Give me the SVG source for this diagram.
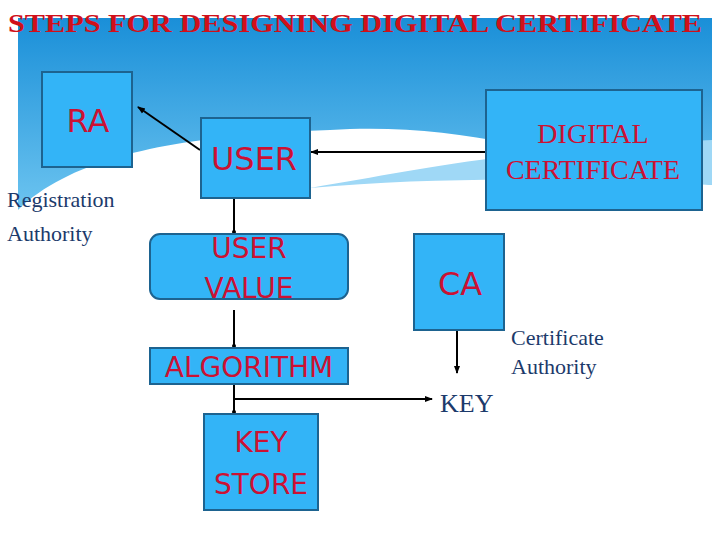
<svg xmlns="http://www.w3.org/2000/svg" width="720" height="540" viewBox="0 0 720 540">
<defs>
<linearGradient id="sky" x1="0" y1="0" x2="0" y2="1"><stop offset="0" stop-color="#1a8fd8"/><stop offset="1" stop-color="#6cc4f0"/></linearGradient>
<marker id="ah" markerWidth="8" markerHeight="8" refX="7" refY="4" orient="auto" markerUnits="userSpaceOnUse"><path d="M0,1 L8,4 L0,7 Z" fill="#000"/></marker>
</defs>
<style>
.box{fill:#33b4f7;stroke:#1d6390;stroke-width:2}
.nt{font-family:"DejaVu Sans",sans-serif;fill:#cc1133;text-anchor:middle}
.lb{font-family:"Liberation Serif",serif;fill:#1c3a6b;font-size:22px}
.ln{stroke:#000;stroke-width:2;fill:none}
</style>
<rect width="720" height="540" fill="#fff"/>
<path d="M18,18 H712 V185 C600,170 480,120 330,130 C200,135 80,150 18,210 Z" fill="url(#sky)"/>
<path d="M310,188 C420,170 500,150 712,140 V185 C600,180 450,175 310,188 Z" fill="#9fd8f6"/>
<text x="8" y="32" font-family="Liberation Serif,serif" font-weight="bold" font-size="26" fill="#d0101a" textLength="694" lengthAdjust="spacingAndGlyphs">STEPS FOR DESIGNING DIGITAL CERTIFICATE</text>
<g id="connectors">
<line class="ln" x1="200" y1="150" x2="138" y2="107" marker-end="url(#ah)"/>
<line class="ln" x1="486" y1="152" x2="311" y2="152" marker-end="url(#ah)"/>
<line class="ln" x1="234" y1="198" x2="234" y2="234"/><circle cx="234" cy="232" r="2"/>
<line class="ln" x1="234" y1="310" x2="234" y2="348"/><circle cx="234" cy="346" r="2"/>
<line class="ln" x1="234" y1="384" x2="234" y2="414"/><circle cx="234" cy="412" r="2"/>
<line class="ln" x1="234" y1="399" x2="432" y2="399" marker-end="url(#ah)"/>
<line class="ln" x1="457" y1="330" x2="457" y2="373" marker-end="url(#ah)"/>
</g>
<g id="ra"><rect class="box" x="42" y="72" width="90" height="95"/><text class="nt" x="88" y="132" font-size="32">RA</text></g>
<g id="ra-label"><text class="lb" x="7" y="207">Registration</text><text class="lb" x="7" y="241">Authority</text></g>
<g id="user"><rect class="box" x="201" y="118" width="109" height="80"/><text class="nt" x="254" y="170" font-size="32">USER</text></g>
<g id="dc"><rect class="box" x="486" y="90" width="216" height="120"/><text x="593" y="143" font-family="Liberation Serif,serif" font-size="28" fill="#cc1133" text-anchor="middle">DIGITAL</text><text x="593" y="179" font-family="Liberation Serif,serif" font-size="28" fill="#cc1133" text-anchor="middle">CERTIFICATE</text></g>
<g id="uservalue"><rect class="box" x="150" y="234" width="198" height="65" rx="10"/><text class="nt" x="249" y="258" font-size="28">USER</text><text class="nt" x="249" y="298" font-size="28">VALUE</text></g>
<g id="ca"><rect class="box" x="414" y="234" width="90" height="96"/><text class="nt" x="460" y="295" font-size="32">CA</text></g>
<g id="ca-label"><text class="lb" x="511" y="345">Certificate</text><text class="lb" x="511" y="374">Authority</text></g>
<g id="algorithm"><rect class="box" x="150" y="348" width="198" height="36"/><text class="nt" x="249" y="377" font-size="28">ALGORITHM</text></g>
<g id="key"><text x="440" y="412" font-family="Liberation Serif,serif" font-size="26" fill="#1c3a6b">KEY</text></g>
<g id="keystore"><rect class="box" x="204" y="414" width="114" height="96"/><text class="nt" x="261" y="452" font-size="28">KEY</text><text class="nt" x="261" y="494" font-size="28">STORE</text></g>
</svg>
